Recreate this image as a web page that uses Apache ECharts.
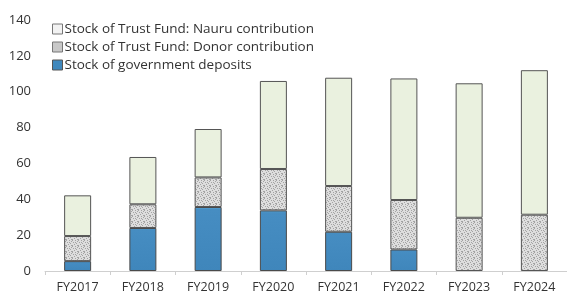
<!DOCTYPE html>
<html>
<head>
<meta charset="utf-8">
<script src="https://cdn.jsdelivr.net/npm/echarts@6/dist/echarts.min.js"></script>
<style>
	html, body { margin: 0; padding: 0; background: #fff; }
	#chart { width: 567px; height: 298px; }
</style>
</head>
<body>
<div id="chart"></div>
<script>
	var categories = ['FY2017', 'FY2018', 'FY2019', 'FY2020', 'FY2021', 'FY2022', 'FY2023', 'FY2024'];
	var govDeposits = [5.5, 24, 35.7, 33.8, 21.9, 12, 0, 0];
	var donorContribution = [14, 13.2, 16.5, 23.1, 25.5, 27.6, 29.7, 31.4];
	var nauruContribution = [22.7, 26.4, 27, 49.1, 60.4, 67.8, 75, 80.6];
	var yTicks = [0, 20, 40, 60, 80, 100, 120, 140];

	// zero segments are not drawn at all
	function noZero(arr) {
		return arr.map(function(v){ return v === 0 ? '-' : v; });
	}

	// stipple pattern for the donor segment
	function makeDots() {
		var c = document.createElement('canvas');
		c.width = 6; c.height = 6;
		var ctx = c.getContext('2d');
		ctx.fillStyle = '#dedede';
		ctx.fillRect(0, 0, 6, 6);
		ctx.fillStyle = '#a4a4a4';
		var pts = [[0,0],[3,0],[5,1],[1,2],[4,3],[2,4],[0,5],[5,5],[3,2]];
		pts.forEach(function(p){ ctx.fillRect(p[0], p[1], 1, 1); });
		return c;
	}
	var dots = makeDots();

	var myChart = echarts.init(document.getElementById('chart'));
	var font = '"Open Sans", "Noto Sans", sans-serif';
	var option = {
		animation: false,
		textStyle: { fontFamily: font },
		legend: {
			left: 48,
			top: 20,
			orient: 'vertical',
			icon: 'rect',
			itemWidth: 10,
			itemHeight: 10,
			itemGap: 4,
			padding: [2, 4],
			textStyle: { color: '#333', fontSize: 13.5, fontFamily: font, padding: [0, 0, 0, -3] },
			data: [
				{ name: 'Stock of Trust Fund: Nauru contribution', itemStyle: { color: '#f2f2f2', borderColor: '#777', borderWidth: 1 } },
				{ name: 'Stock of Trust Fund: Donor contribution', itemStyle: { color: '#c8c8c8', borderColor: '#777', borderWidth: 1 } },
				{ name: 'Stock of government deposits', itemStyle: { color: '#3f88bd', borderColor: '#555', borderWidth: 1 } }
			]
		},
		grid: {
			left: 45,
			right: 0,
			top: 20,
			bottom: 27
		},
		xAxis: {
			type: 'category',
			data: categories,
			axisLine: { lineStyle: { color: '#cfcfcf', width: 1 } },
			axisTick: { show: true, length: 4, lineStyle: { color: '#cfcfcf' } },
			axisLabel: { color: '#333', fontSize: 12.5, margin: 10, fontFamily: font }
		},
		yAxis: {
			type: 'value',
			min: yTicks[0],
			max: yTicks[yTicks.length - 1],
			interval: 20,
			splitLine: { show: false },
			axisLine: { show: false },
			axisTick: { show: false },
			axisLabel: { color: '#333', fontSize: 13, margin: 14, fontFamily: font }
		},
		series: [{
			name: 'Stock of government deposits',
			type: 'bar',
			stack: 'total',
			barWidth: 27,
			itemStyle: {
				color: new echarts.graphic.LinearGradient(0, 0, 0, 1, [
					{ offset: 0, color: '#5aa6d6' },
					{ offset: 0.04, color: '#468dc2' },
					{ offset: 1, color: '#3f86bb' }
				]),
				borderColor: '#4a4a4a',
				borderWidth: 1
			},
			data: noZero(govDeposits)
		}, {
			name: 'Stock of Trust Fund: Donor contribution',
			type: 'bar',
			stack: 'total',
			barWidth: 27,
			itemStyle: {
				color: { image: dots, repeat: 'repeat' },
				borderColor: '#555',
				borderWidth: 1
			},
			data: noZero(donorContribution)
		}, {
			name: 'Stock of Trust Fund: Nauru contribution',
			type: 'bar',
			stack: 'total',
			barWidth: 27,
			itemStyle: {
				color: '#eaf1df',
				borderColor: '#555',
				borderWidth: 1
			},
			data: noZero(nauruContribution)
		}]
	};
	myChart.setOption(option);
</script>
</body>
</html>
